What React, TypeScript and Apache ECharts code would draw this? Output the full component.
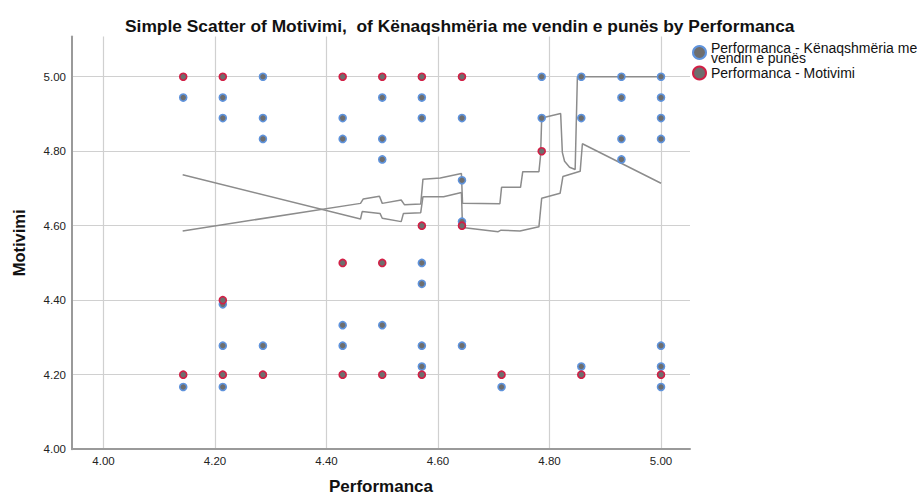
import React, { useEffect, useRef } from "react";
import * as echarts from "echarts";

const titleText = "Simple Scatter of Motivimi,  of Kënaqshmëria me vendin e punës by Performanca";
const seriesSatisfaction = "Performanca - Kënaqshmëria me vendin e punës";
const seriesMotivation = "Performanca - Motivimi";
const xTicks = [4.0, 4.2, 4.4, 4.6, 4.8, 5.0];
const yTicks = [4.0, 4.2, 4.4, 4.6, 4.8, 5.0];

// Performanca vs Kënaqshmëria me vendin e punës
const satisfactionPoints: [number, number][] = [
  [4.143, 4.944], [4.143, 4.167],
  [4.214, 4.944], [4.214, 4.889], [4.214, 4.389], [4.214, 4.278], [4.214, 4.167],
  [4.286, 5.0], [4.286, 4.889], [4.286, 4.833], [4.286, 4.278],
  [4.429, 4.889], [4.429, 4.833], [4.429, 4.333], [4.429, 4.278],
  [4.5, 4.944], [4.5, 4.833], [4.5, 4.778], [4.5, 4.333],
  [4.571, 4.944], [4.571, 4.889], [4.571, 4.5], [4.571, 4.444], [4.571, 4.278], [4.571, 4.222],
  [4.643, 4.889], [4.643, 4.722], [4.643, 4.611], [4.643, 4.278],
  [4.714, 4.167],
  [4.786, 5.0], [4.786, 4.889],
  [4.857, 5.0], [4.857, 4.889], [4.857, 4.222],
  [4.929, 5.0], [4.929, 4.944], [4.929, 4.833], [4.929, 4.778],
  [5.0, 5.0], [5.0, 4.944], [5.0, 4.889], [5.0, 4.833], [5.0, 4.278], [5.0, 4.222], [5.0, 4.167],
];

// Performanca vs Motivimi
const motivationPoints: [number, number][] = [
  [4.143, 5.0], [4.214, 5.0], [4.429, 5.0], [4.5, 5.0], [4.571, 5.0], [4.643, 5.0],
  [4.786, 4.8],
  [4.571, 4.6], [4.643, 4.6],
  [4.429, 4.5], [4.5, 4.5],
  [4.214, 4.4],
  [4.143, 4.2], [4.214, 4.2], [4.286, 4.2], [4.429, 4.2], [4.5, 4.2], [4.571, 4.2],
  [4.714, 4.2], [4.857, 4.2], [5.0, 4.2],
];

// fit line through the Motivimi points
const fitLineA: [number, number][] = [
  [4.142, 4.737], [4.461, 4.618], [4.464, 4.638], [4.496, 4.633], [4.5, 4.62],
  [4.534, 4.611], [4.538, 4.633], [4.569, 4.635], [4.573, 4.678], [4.61, 4.678],
  [4.642, 4.689], [4.644, 4.595], [4.708, 4.584], [4.713, 4.588], [4.747, 4.586],
  [4.781, 4.597], [4.786, 4.674], [4.819, 4.687], [4.824, 4.732], [4.855, 4.746],
  [4.859, 4.82], [5.0, 4.714],
];

// fit line through the Kënaqshmëria points
const fitLineB: [number, number][] = [
  [4.142, 4.586], [4.461, 4.66], [4.466, 4.672], [4.495, 4.679], [4.5, 4.66],
  [4.534, 4.669], [4.54, 4.656], [4.569, 4.658], [4.573, 4.725], [4.604, 4.728],
  [4.642, 4.74], [4.644, 4.66], [4.711, 4.659], [4.714, 4.703], [4.748, 4.703],
  [4.752, 4.745], [4.781, 4.745], [4.784, 4.789], [4.786, 4.889], [4.82, 4.901],
  [4.823, 4.797], [4.827, 4.773], [4.836, 4.757], [4.846, 4.751], [4.85, 5.0],
  [5.0, 5.0],
];

const FONT = "'Liberation Sans', Arial, sans-serif";

export default function App() {
  const ref = useRef<HTMLDivElement>(null);
  useEffect(() => {
    document.body.style.margin = "0";
    if (!ref.current) return;
    const chart = echarts.init(ref.current, undefined, { renderer: "svg" });
    const markerFill = "#6e6e6e";
    const blue = "#5f93dc";
    const red = "#d21f46";
    chart.setOption({
      animation: false,
      backgroundColor: "#ffffff",
      textStyle: { fontFamily: FONT },
      title: {
        text: titleText,
        left: 120,
        top: 11,
        textStyle: { fontFamily: FONT, fontSize: 17.37, lineHeight: 20, fontWeight: "bold", color: "#111" },
      },
      legend: {
        orient: "vertical",
        left: 692,
        top: 40.5,
        padding: 0,
        itemGap: 1,
        itemWidth: 13,
        itemHeight: 13,
        icon: "circle",
        data: [seriesSatisfaction, seriesMotivation],
        formatter: (name: string) =>
          name === seriesSatisfaction ? "Performanca - Kënaqshmëria me\nvendin e punës" : name,
        textStyle: { fontFamily: FONT, fontSize: 14, color: "#111", lineHeight: 10 },
      },
      grid: { left: 72, top: 36.5, right: 227, bottom: 47.7, containLabel: false },
      xAxis: {
        type: "value",
        min: 3.9435,
        max: 5.052,
        name: "Performanca",
        nameLocation: "middle",
        nameGap: 30.3,
        nameTextStyle: { fontFamily: FONT, fontSize: 17, lineHeight: 14, fontWeight: "bold", color: "#111" },
        axisLine: { show: true, lineStyle: { color: "#9a9a9a", width: 2 } },
        axisTick: { show: false, customValues: xTicks },
        axisLabel: {
          customValues: xTicks,
          formatter: (v: number) => v.toFixed(2),
          fontFamily: FONT,
          fontSize: 11.5,
          color: "#222",
          margin: 6,
        },
        splitLine: { show: true, lineStyle: { color: "#d0d0d0", width: 1.2 } },
      },
      yAxis: {
        type: "value",
        min: 4.0,
        max: 5.108,
        name: "Motivimi",
        nameLocation: "middle",
        nameGap: 45,
        nameTextStyle: { fontFamily: FONT, fontSize: 16.5, fontWeight: "bold", color: "#111" },
        axisLine: { show: true, lineStyle: { color: "#9a9a9a", width: 2 } },
        axisTick: { show: false, customValues: yTicks },
        axisLabel: {
          customValues: yTicks,
          formatter: (v: number) => v.toFixed(2),
          fontFamily: FONT,
          fontSize: 11.5,
          color: "#222",
          margin: 6,
        },
        splitLine: { show: true, lineStyle: { color: "#d0d0d0", width: 1.2 } },
      },
      series: [
        {
          name: "fitA",
          type: "line",
          data: fitLineA,
          showSymbol: false,
          symbol: "none",
          lineStyle: { color: "#8c8c8c", width: 1.5 },
          z: 1,
          silent: true,
        },
        {
          name: "fitB",
          type: "line",
          data: fitLineB,
          showSymbol: false,
          symbol: "none",
          lineStyle: { color: "#8c8c8c", width: 1.5 },
          z: 1,
          silent: true,
        },
        {
          name: seriesSatisfaction,
          type: "scatter",
          data: satisfactionPoints,
          symbolSize: 7,
          itemStyle: { color: markerFill, borderColor: blue, borderWidth: 1.6, opacity: 1 },
          z: 3,
        },
        {
          name: seriesMotivation,
          type: "scatter",
          data: motivationPoints,
          symbolSize: 7,
          itemStyle: { color: markerFill, borderColor: red, borderWidth: 1.6, opacity: 1 },
          z: 4,
        },
      ],
    });
    return () => chart.dispose();
  }, []);
  return <div ref={ref} style={{ width: 917, height: 500, background: "#fff" }} />;
}
